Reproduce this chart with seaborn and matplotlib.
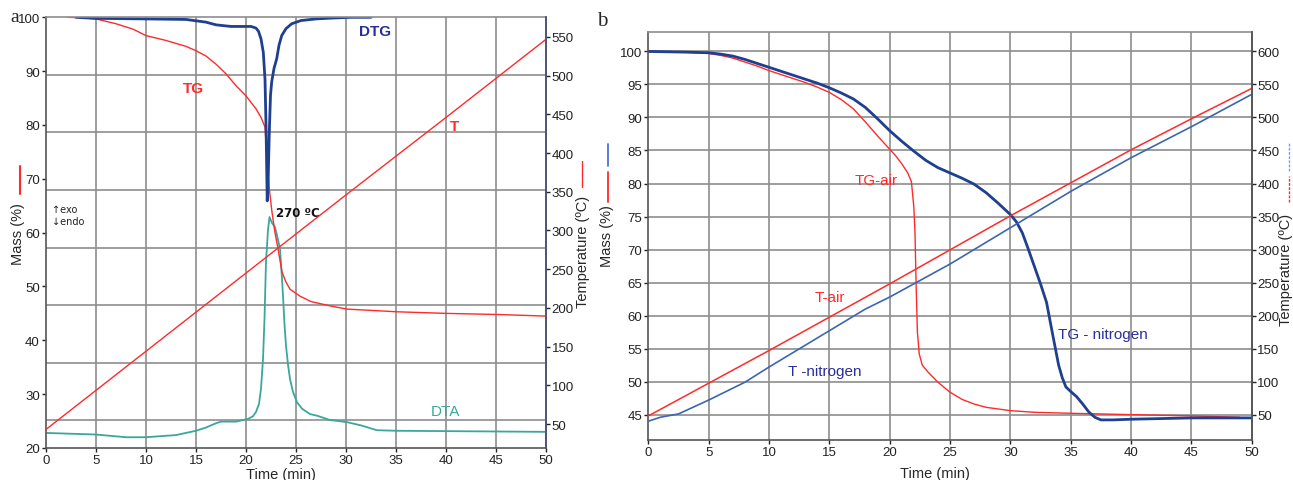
import numpy as np
import pandas as pd
import matplotlib
matplotlib.use("Agg")
import matplotlib.pyplot as plt
from matplotlib.lines import Line2D
import seaborn as sns

# ---------------- panel a: thermal analysis in air ----------------
tg_time = [2.2, 3, 4, 5, 7, 8.7, 10, 12, 14, 15, 16, 17, 18, 19, 20, 21, 21.5, 21.9,
           22.1, 22.3, 22.6, 22.9, 23.2, 23.6, 24.0, 24.4, 25.4, 26.5, 28.4, 30.1, 35.1,
           40.1, 45.1, 50]
tg_mass = [100, 99.95, 99.85, 99.7, 98.8, 97.8, 96.6, 95.7, 94.6, 93.8, 92.8, 91.3, 89.5,
           87.3, 85.4, 83.0, 81.4, 79.6, 74.0, 68.6, 63.8, 60.0, 57.0, 52.7, 50.8, 49.5,
           48.2, 47.2, 46.4, 45.8, 45.3, 45.0, 44.8, 44.5]

dtg_time = [3, 5, 10, 14, 16, 17, 18.5, 20.5, 21.0, 21.25, 21.5, 21.73, 21.9, 22.0, 22.07,
            22.12, 22.2, 22.33, 22.45, 22.57, 22.8, 23.07, 23.3, 23.57, 24.0, 24.57, 25.5,
            27, 28.5, 30.5, 32.5]
dtg_value = [100, 99.8, 99.7, 99.6, 99.1, 98.6, 98.3, 98.3, 98.0, 97.4, 96.0, 93.5, 88.5,
             80.0, 72.0, 65.9, 68.5, 78.7, 85.5, 88.0, 90.5, 92.3, 94.8, 96.6, 97.9, 98.8,
             99.4, 99.7, 99.85, 100, 100]

dta_time = [0, 5, 8, 10, 13, 15, 16, 17, 17.5, 19, 20.2, 20.7, 21.0, 21.3, 21.5, 21.7,
            21.85, 22.0, 22.2, 22.35, 22.6, 22.9, 23.1, 23.4, 23.6, 23.7, 23.85, 24.0, 24.2,
            24.4, 24.7, 25.1, 25.6, 26.4, 27.1, 28.4, 30.1, 31.5, 33.1, 35.1, 50]
dta_value = [22.8, 22.5, 22.0, 22.0, 22.4, 23.2, 23.8, 24.6, 24.9, 24.9, 25.4, 25.9, 26.7,
             28.2, 31.0, 36.5, 44.0, 54.6, 60.5, 62.9, 61.8, 61.0, 59.5, 57.0, 51.5, 48.2,
             43.0, 39.0, 35.5, 32.8, 30.4, 28.5, 27.3, 26.3, 26.0, 25.2, 24.8, 24.2, 23.3,
             23.2, 23.0]

temp_a_time = [0, 10, 20, 30, 40, 50]
temp_a_value = [43, 144, 245, 346, 446, 547]

# ---------------- panel b: air vs nitrogen ----------------
tg_air_time = [0, 3, 5, 6, 7, 8, 9, 10, 11, 12, 13, 14, 15, 16, 17, 18, 19, 20, 20.5, 21,
               21.5, 21.8, 22.0, 22.1, 22.2, 22.3, 22.45, 22.7, 23.2, 24.0, 25, 26, 27, 28,
               30, 32, 35, 40, 45, 49]
tg_air_mass = [100, 99.9, 99.7, 99.4, 99.0, 98.4, 97.8, 97.1, 96.5, 95.9, 95.3, 94.6, 93.8,
               92.7, 91.3, 89.3, 87.2, 85.2, 84.2, 83.0, 81.6, 80.3, 76.5, 72.5, 64.0, 57.5,
               54.2, 52.5, 51.4, 49.9, 48.4, 47.3, 46.6, 46.1, 45.6, 45.35, 45.2, 45.0,
               44.8, 44.6]

tg_n2_time = [0, 3, 5, 6, 7, 8, 9, 10, 11, 12, 13, 14, 15, 16, 17, 18, 19, 20, 21, 22, 23,
              24, 25, 26, 27, 28, 29, 30, 30.5, 31, 31.5, 32, 32.5, 33, 33.5, 34, 34.3,
              34.6, 35, 35.5, 36, 36.5, 37, 37.5, 38.5, 40, 45, 50]
tg_n2_mass = [100, 99.9, 99.8, 99.6, 99.3, 98.8, 98.2, 97.6, 97.0, 96.4, 95.8, 95.2, 94.5,
              93.7, 92.8, 91.5, 89.8, 88.0, 86.4, 84.9, 83.5, 82.4, 81.6, 80.8, 79.9, 78.6,
              77.0, 75.3, 74.2, 72.5, 70.0, 67.4, 64.8, 62.0, 57.2, 52.5, 50.6, 49.2, 48.5,
              47.7, 46.6, 45.4, 44.6, 44.2, 44.2, 44.3, 44.5, 44.5]

t_air_time = [0, 10, 20, 30, 35, 40, 45, 50]
t_air_value = [48, 147, 248, 351, 401, 451, 498, 544]

t_n2_time = [0, 1, 2.5, 5, 8, 10, 15, 18, 20, 22.5, 25, 30, 35, 40, 45, 50]
t_n2_value = [40, 46, 51, 72, 99, 122, 177, 210, 228, 253, 278, 333, 388, 439, 486, 535]

time_ticks = list(range(0, 55, 5))
mass_ticks_a = list(range(20, 110, 10))
temp_ticks_a = list(range(50, 600, 50))
mass_ticks_b = list(range(45, 105, 5))
temp_ticks_b = list(range(50, 650, 50))

RED = "#ff2a2a"
NAVY = "#1f3f8f"
STEEL = "#3d65b0"
TEAL = "#3aa79c"
GRID = "#8e8e8e"
TXT_BLUE = "#2a2e9a"

sns.set_style("white")
plt.rcParams["font.family"] = ["Liberation Sans", "DejaVu Sans"]

fig = plt.figure(figsize=(12.93, 4.81), dpi=100)

W, H = 1293, 481


def place(x0, x1, ytop, ybot):
    return [x0 / W, 1 - ybot / H, (x1 - x0) / W, (ybot - ytop) / H]


def line(ax, x, y, **kw):
    df = pd.DataFrame({"x": x, "y": y})
    sns.lineplot(data=df, x="x", y="y", ax=ax, estimator=None, sort=False, **kw)


def style_axes(ax, axr):
    for s in ("left", "bottom", "right"):
        ax.spines[s].set_color("#555555")
        ax.spines[s].set_linewidth(1.2)
    ax.spines["top"].set_color(GRID)
    ax.spines["top"].set_linewidth(1.2)
    for s in axr.spines.values():
        s.set_visible(False)
    ax.tick_params(axis="both", direction="out", length=3, width=1, pad=1.5,
                   labelsize=9.5, colors="#222222", left=True, bottom=True)
    axr.tick_params(axis="y", direction="out", length=3, width=1, pad=1.0,
                    labelsize=9.5, colors="#222222", right=True)


def center_label(label):
    label.set_va("center")
    label.set_ha("center")


# ================= panel a =================
ax = fig.add_axes(place(46, 546, 18.3, 449))
ax.set_xlim(0, 50)
ax.set_ylim(20, 100)
axr = ax.twinx()
axr.set_ylim(19, 575.4)

# vertical grid every 5 min, horizontal grid stepped down from the top edge
for t in time_ticks[1:-1]:
    ax.axvline(t, color=GRID, lw=1.2, zorder=0)
for k in range(1, 8):
    ax.axhline(100 - k * 80 / 7.48, color=GRID, lw=1.2, zorder=0)

line(ax, dta_time, dta_value, color=TEAL, linewidth=1.3)
line(ax, tg_time, tg_mass, color=RED, linewidth=1.0)
line(ax, dtg_time, dtg_value, color=NAVY, linewidth=2.0)
line(axr, temp_a_time, temp_a_value, color=RED, linewidth=1.0)

ax.set_xticks(time_ticks)
ax.set_yticks(mass_ticks_a)
axr.set_yticks(temp_ticks_a)
style_axes(ax, axr)
axr.spines["right"].set_visible(True)
axr.spines["right"].set_color("#4a5570")
axr.spines["right"].set_linewidth(1.2)

ax.set_xlabel("Time (min)", fontsize=10.5)
center_label(ax.xaxis.label)
ax.xaxis.set_label_coords(0.47, -0.060)
ax.set_ylabel("Mass (%)", fontsize=10.5)
center_label(ax.yaxis.label)
ax.yaxis.set_label_coords(-0.056, 0.50)
axr.set_ylabel("Temperature (ºC)", fontsize=10.5, rotation=90)
center_label(axr.yaxis.label)
axr.yaxis.set_label_coords(1.073, 0.457)

# axis colour keys
ax.add_line(Line2D([-0.052, -0.052], [0.589, 0.654], transform=ax.transAxes,
                   color=RED, lw=1.5, clip_on=False))
ax.add_line(Line2D([1.071, 1.071], [0.606, 0.666], transform=ax.transAxes,
                   color=RED, lw=1.0, clip_on=False))

ax.text(14.7, 86.9, "TG", color=RED, fontsize=11, fontweight="bold",
        ha="center", va="center")
ax.text(32.9, 97.5, "DTG", color=TXT_BLUE, fontsize=11, fontweight="bold",
        ha="center", va="center")
ax.text(40.9, 79.8, "T", color=RED, fontsize=11, fontweight="bold",
        ha="center", va="center")
ax.text(39.9, 26.9, "DTA", color=TEAL, fontsize=11, ha="center", va="center")
ax.text(23.0, 63.8, "270 ºC", color="#111111", fontsize=8.5, fontweight="bold",
        ha="left", va="center", family=["DejaVu Sans"])
ax.text(0.6, 64.3, "↑exo", fontsize=7, color="#222222", ha="left", va="center",
        family=["DejaVu Sans"])
ax.text(0.6, 62.2, "↓endo", fontsize=7, color="#222222", ha="left", va="center",
        family=["DejaVu Sans"])
fig.text(15 / W, 1 - 17 / H, "a", fontsize=14, family=["Liberation Serif"],
         ha="center", va="center")

# ================= panel b =================
bx = fig.add_axes(place(648.3, 1251.7, 33.3, 440.7))
bx.set_xlim(0, 50)
bx.set_ylim(41.2, 102.9)
bxr = bx.twinx()
bxr.set_ylim(12, 629)

for t in time_ticks[1:-1]:
    bx.axvline(t, color=GRID, lw=1.2, zorder=0)
for m in mass_ticks_b:
    bx.axhline(m, color=GRID, lw=1.2, zorder=0)

line(bxr, t_air_time, t_air_value, color=RED, linewidth=1.1)
line(bxr, t_n2_time, t_n2_value, color=STEEL, linewidth=1.2)
line(bx, tg_air_time, tg_air_mass, color=RED, linewidth=1.0)
line(bx, tg_n2_time, tg_n2_mass, color=NAVY, linewidth=2.0)

bx.set_xticks(time_ticks)
bx.set_yticks(mass_ticks_b)
bxr.set_yticks(temp_ticks_b)
style_axes(bx, bxr)
bxr.spines["right"].set_visible(True)
bxr.spines["right"].set_color("#555555")
bxr.spines["right"].set_linewidth(1.2)

bx.set_xlabel("Time (min)", fontsize=10.5)
center_label(bx.xaxis.label)
bx.xaxis.set_label_coords(0.475, -0.082)
bx.set_ylabel("Mass (%)", fontsize=10.5)
center_label(bx.yaxis.label)
bx.yaxis.set_label_coords(-0.068, 0.502)
bxr.set_ylabel("Temperature (ºC)", fontsize=10.5, rotation=90)
center_label(bxr.yaxis.label)
bxr.yaxis.set_label_coords(1.057, 0.419)

bx.add_line(Line2D([-0.066, -0.066], [0.672, 0.726], transform=bx.transAxes,
                   color="#4a73d0", lw=1.3, clip_on=False))
bx.add_line(Line2D([-0.066, -0.066], [0.583, 0.657], transform=bx.transAxes,
                   color=RED, lw=1.3, clip_on=False))
bx.add_line(Line2D([1.062, 1.062], [0.660, 0.731], transform=bx.transAxes,
                   color="#7f9ee0", lw=1.0, ls=(0, (2, 1)), clip_on=False))
bx.add_line(Line2D([1.062, 1.062], [0.583, 0.648], transform=bx.transAxes,
                   color=RED, lw=1.0, ls=(0, (2, 1)), clip_on=False))

bx.text(18.9, 80.5, "TG-air", color=RED, fontsize=11, ha="center", va="center")
bx.text(15.05, 62.8, "T-air", color=RED, fontsize=11, ha="center", va="center")
bx.text(14.6, 51.6, "T -nitrogen", color=TXT_BLUE, fontsize=11, ha="center",
        va="center")
bx.text(37.7, 57.2, "TG - nitrogen", color=TXT_BLUE, fontsize=11, ha="center",
        va="center")
fig.text(602 / W, 1 - 21 / H, "b", fontsize=15, family=["Liberation Serif"],
         ha="center", va="center")

fig.savefig("out.png", dpi=100)
